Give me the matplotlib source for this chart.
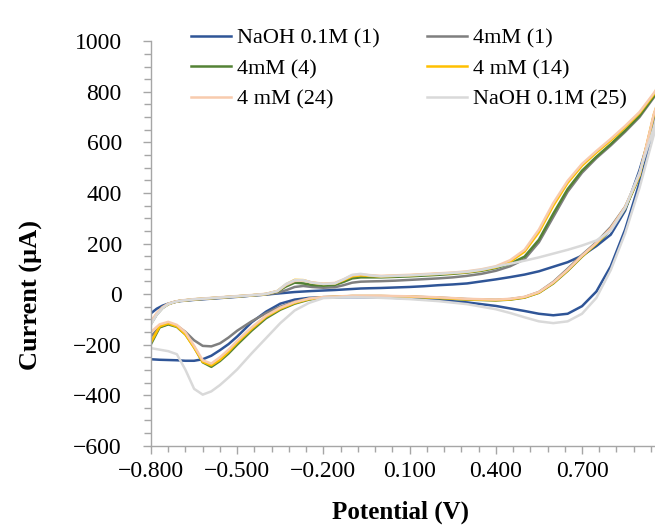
import matplotlib.pyplot as plt
from matplotlib.ticker import MultipleLocator, FixedLocator, FuncFormatter

plt.rcParams['font.family'] = ['Liberation Serif', 'DejaVu Serif']

# potential grid, forward (anodic) scan and reverse scan
pot_fwd = [-0.80, -0.78, -0.76, -0.74, -0.72, -0.70, -0.65, -0.60, -0.55, -0.50, -0.45,
           -0.40, -0.36, -0.33, -0.30, -0.27, -0.24, -0.20, -0.16, -0.13, -0.10, -0.07,
           -0.04, 0.00, 0.05, 0.10, 0.15, 0.20, 0.25, 0.30, 0.35, 0.40, 0.45, 0.50,
           0.55, 0.60, 0.65, 0.70, 0.75, 0.80, 0.85, 0.90, 0.95, 1.00]
pot_rev = [1.00, 0.95, 0.90, 0.85, 0.80, 0.75, 0.70, 0.65, 0.60, 0.55, 0.50, 0.45, 0.40,
           0.30, 0.20, 0.10, 0.00, -0.10, -0.20, -0.25, -0.30, -0.35, -0.40, -0.45, -0.50,
           -0.53, -0.56, -0.59, -0.62, -0.65, -0.68, -0.71, -0.74, -0.77, -0.80]

labels = ['NaOH 0.1M (1)', '4mM (1)', '4mM (4)', '4 mM (14)', '4 mM (24)', 'NaOH 0.1M (25)']
colors = ['#2F5597', '#7F7F7F', '#548235', '#FFC000', '#F8CBAD', '#D9D9D9']

# currents (uA)
naoh1_fwd = [-76, -58, -46, -38, -32, -28, -23, -19, -15, -11, -6, -2, 2, 5, 8, 10, 12, 14, 16,
             18, 20, 22, 23, 24, 26, 28, 31, 35, 38, 42, 50, 58, 67, 77, 90, 108, 126, 152,
             190, 235, 330, 490, 680, 900]
naoh1_rev = [900, 660, 440, 255, 110, 10, -48, -78, -84, -78, -67, -57, -47, -33, -24, -17,
             -13, -12, -13, -15, -22, -38, -70, -112, -168, -198, -222, -244, -258, -264,
             -264, -262, -261, -260, -258]

mm1_fwd = [-115, -80, -55, -40, -32, -27, -22, -18, -14, -10, -6, -2, 5, 15, 28, 32, 28, 25,
           27, 35, 45, 49, 50, 51, 53, 56, 59, 62, 66, 72, 80, 92, 110, 138, 205, 305, 405,
           480, 538, 588, 642, 700, 778, 870]
mm1_rev = [870, 700, 470, 345, 265, 205, 155, 100, 48, 8, -12, -20, -23, -20, -14, -10, -8,
           -8, -12, -18, -30, -50, -76, -108, -145, -172, -195, -207, -205, -183, -150,
           -125, -118, -130, -168]

mm4_fwd = [-118, -80, -55, -40, -32, -27, -21, -17, -13, -9, -5, 0, 10, 30, 45, 42, 36, 33,
           36, 48, 62, 66, 66, 66, 68, 70, 73, 76, 80, 85, 92, 103, 120, 148, 215, 318, 415,
           488, 543, 593, 647, 705, 782, 875]
mm4_rev = [875, 705, 465, 338, 255, 198, 148, 92, 42, 5, -14, -22, -25, -22, -16, -11, -9,
           -9, -14, -22, -38, -62, -96, -145, -200, -235, -265, -288, -270, -210, -160,
           -130, -120, -132, -198]

mm14_fwd = [-112, -78, -54, -40, -32, -27, -21, -17, -13, -9, -5, 0, 12, 38, 56, 55, 45, 40,
            42, 55, 70, 74, 72, 70, 72, 74, 77, 80, 83, 87, 95, 106, 128, 168, 245, 350,
            440, 508, 560, 608, 660, 716, 790, 880]
mm14_rev = [880, 710, 470, 342, 258, 200, 150, 94, 44, 6, -13, -21, -24, -21, -15, -10, -8,
            -8, -13, -20, -35, -58, -90, -138, -192, -228, -260, -282, -268, -212, -160,
            -128, -116, -128, -190]

mm24_fwd = [-108, -75, -52, -38, -31, -26, -20, -16, -12, -8, -4, 1, 12, 36, 52, 54, 46, 41,
            44, 58, 74, 78, 75, 72, 74, 76, 79, 82, 85, 90, 98, 110, 134, 175, 255, 360,
            448, 515, 566, 614, 665, 720, 795, 885]
mm24_rev = [885, 712, 472, 344, 260, 202, 152, 96, 46, 8, -11, -19, -22, -19, -13, -9, -7,
            -7, -12, -18, -32, -54, -86, -132, -185, -220, -250, -275, -262, -205, -152,
            -122, -110, -120, -150]

naoh25_fwd = [-120, -82, -56, -40, -32, -27, -21, -17, -13, -9, -5, 0, 12, 40, 55, 55, 45,
              40, 42, 58, 76, 80, 74, 70, 72, 74, 77, 80, 84, 88, 96, 108, 120, 132, 145,
              160, 175, 192, 212, 250, 340, 480, 660, 880]
naoh25_rev = [880, 630, 420, 240, 95, -15, -78, -108, -115, -108, -92, -75, -60, -40, -28,
              -20, -15, -12, -16, -35, -65, -115, -175, -235, -298, -330, -360, -385, -398,
              -375, -300, -238, -226, -220, -214]

series = [(naoh1_fwd, naoh1_rev), (mm1_fwd, mm1_rev), (mm4_fwd, mm4_rev),
          (mm14_fwd, mm14_rev), (mm24_fwd, mm24_rev), (naoh25_fwd, naoh25_rev)]

fig = plt.figure(figsize=(6.55, 5.25), dpi=100)
ax = fig.add_axes([151 / 655, 1 - 445.7 / 525, 1 - 151 / 655, (445.7 - 41.3) / 525])

lines = []
for (fwd, rev), lab, col in zip(series, labels, colors):
    ln, = ax.plot(pot_fwd + pot_rev, fwd + rev, color=col, lw=1.8, label=lab)
    lines.append(ln)

ax.set_xlim(-0.8, 0.954)
ax.set_ylim(-600, 1000)
ax.xaxis.set_major_locator(FixedLocator([-0.8, -0.5, -0.2, 0.1, 0.4, 0.7]))
ax.xaxis.set_minor_locator(FixedLocator([-0.8 + 0.06 * k for k in range(30)]))
ax.yaxis.set_major_locator(MultipleLocator(200))
ax.yaxis.set_minor_locator(MultipleLocator(50))
ax.xaxis.set_major_formatter(FuncFormatter(lambda v, p: f"{v:.3f}".replace('-', '\u2212')))
ax.yaxis.set_major_formatter(FuncFormatter(lambda v, p: f"{v:.0f}".replace('-', '\u2212')))

for s in ['top', 'right']:
    ax.spines[s].set_visible(False)
for s in ['left', 'bottom']:
    ax.spines[s].set_color('#A6A6A6')
    ax.spines[s].set_linewidth(1.0)

ax.tick_params(axis='both', which='both', color='#A6A6A6', width=1.0, labelsize=17)
ax.tick_params(axis='y', which='major', length=6, pad=15)
ax.tick_params(axis='y', which='minor', length=5)
ax.tick_params(axis='x', which='major', length=6, pad=5)
ax.tick_params(axis='x', which='minor', length=4.5)

fig.text(400 / 655, 1 - 512 / 525, 'Potential (V)', ha='center', va='center',
         fontsize=18, fontweight='bold')
fig.text(31 / 655, 1 - 295 / 525, 'Current (\u00b5A)', ha='center', va='center',
         rotation=90, fontsize=19, fontweight='bold')

# row-wise legend order: matplotlib fills columns first
order = [0, 2, 4, 1, 3, 5]
fig.legend([lines[i] for i in order], [labels[i] for i in order],
           loc='upper left', bbox_to_anchor=(191 / 655, 1 - 28 / 525), ncol=2,
           frameon=False, fontsize=16, handlelength=1.8, handletextpad=0.25,
           labelspacing=0.45, columnspacing=2.15, borderpad=0, borderaxespad=0)

fig.savefig('out.png', dpi=100)
